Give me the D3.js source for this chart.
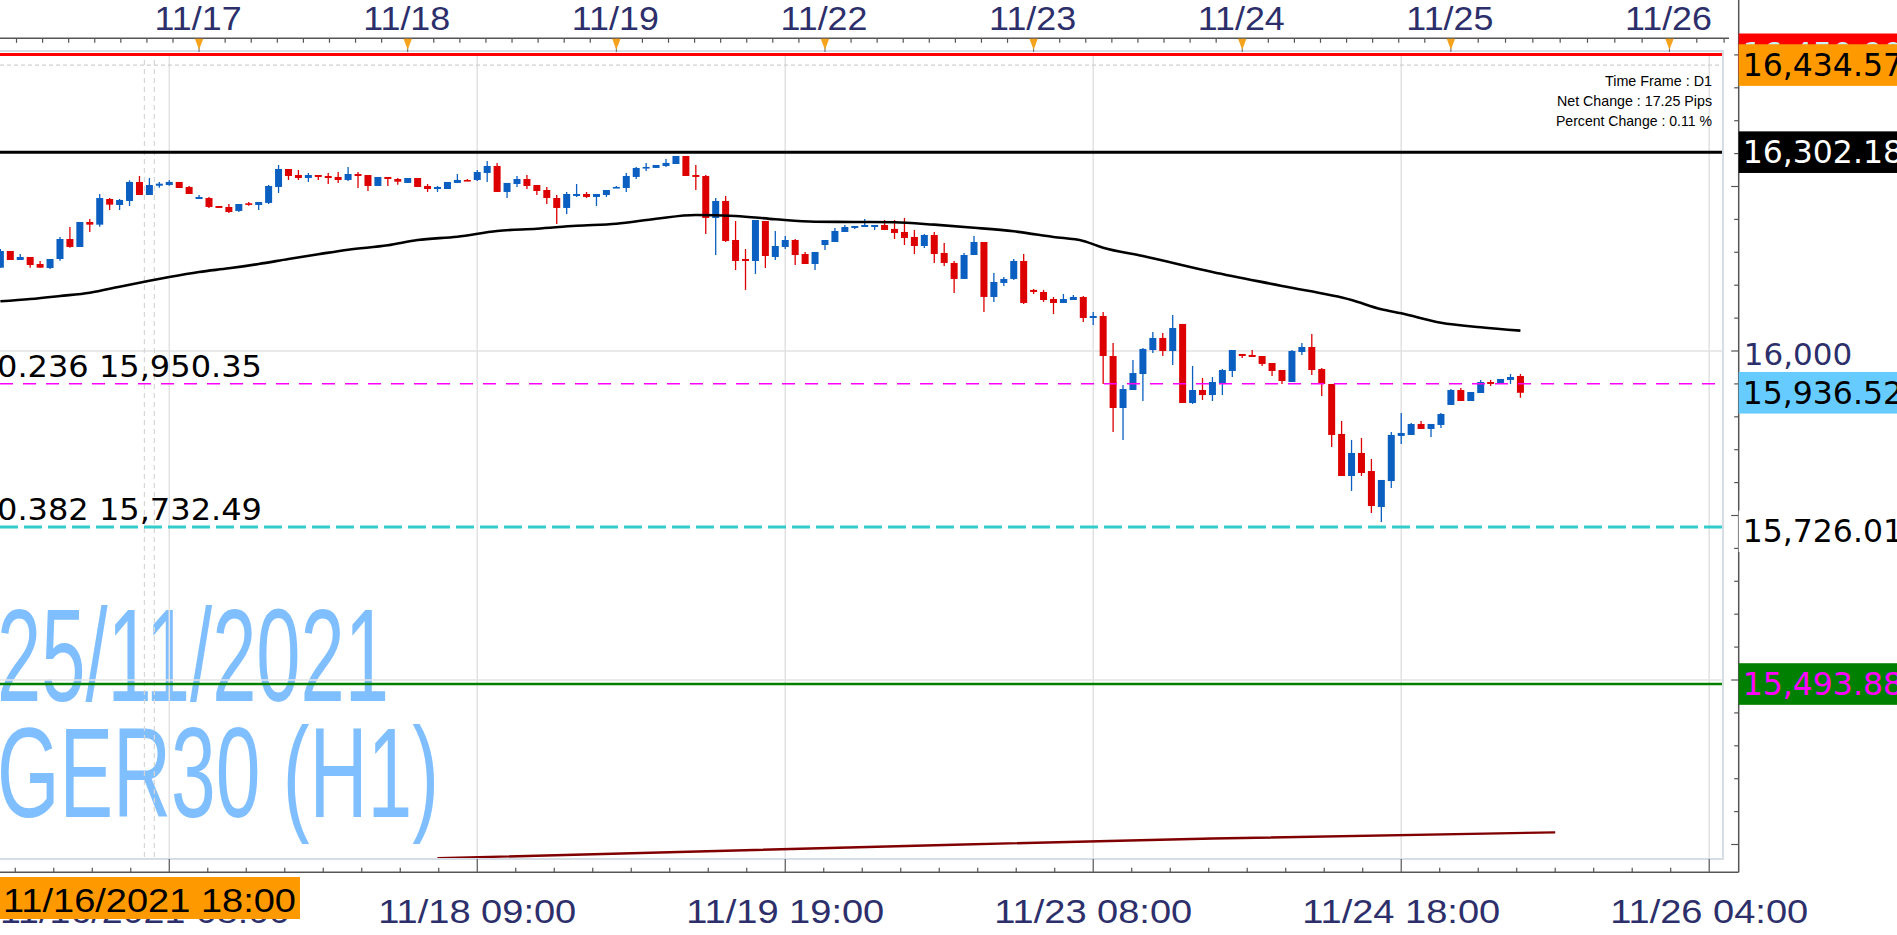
<!DOCTYPE html>
<html><head><meta charset="utf-8">
<script src="https://cdn.jsdelivr.net/npm/d3@7"></script>
<style>html,body{margin:0;padding:0;background:#fff;overflow:hidden}</style>
</head><body>
<svg id="c" width="1897" height="935"></svg>
<script>
// ---------------- DATA ----------------
const opens=[16126.6,16152.0,16138.3,16142.9,16132.2,16126.1,16139.8,16170.2,16158.1,16196.1,
16192.0,16231.0,16221.9,16228.0,16256.9,16237.1,16251.2,16252.3,16256.9,16249.3,
16231.0,16232.5,16220.4,16218.9,16212.8,16224.5,16221.9,16225.0,16249.3,16276.6,
16267.5,16262.9,16267.5,16266.0,16264.5,16259.9,16269.0,16267.5,16250.8,16264.5,
16261.4,16255.4,16262.9,16250.8,16246.2,16246.2,16255.4,16259.9,16259.9,16270.6,
16281.2,16241.7,16253.8,16261.4,16252.3,16244.7,16232.5,16217.4,16235.6,16238.6,
16234.1,16237.1,16247.7,16247.7,16264.5,16278.2,16278.2,16281.2,16284.2,16296.4,
16267.5,16266.0,16202.2,16228.0,16168.7,16139.8,16136.8,16197.6,16142.9,16158.1,
16168.7,16147.4,16132.2,16161.1,16165.7,16180.9,16187.0,16188.5,16188.5,16191.5,
16185.5,16180.9,16173.3,16159.6,16176.3,16149.0,16133.8,16109.5,16145.9,16165.7,
16082.1,16103.4,16109.5,16136.8,16092.8,16089.7,16079.0,16073.0,16077.5,16082.1,
16050.2,16053.2,15992.4,15913.4,15940.7,15965.0,16001.5,16019.8,16000.0,16041.1,
15921.0,15940.7,15933.1,15951.4,15969.6,15995.5,15994.0,15992.4,15981.8,15971.1,
15952.9,15998.5,16006.1,15972.6,15949.9,15873.9,15810.0,15845.0,15817.6,15762.9,
15802.4,15870.9,15872.4,15889.1,15881.5,15887.6,15918.0,15940.7,15924.0,15936.2,
15952.9,15949.9,15956.0,15962.0];
const highs=[16155.0,16152.0,16147.4,16142.9,16136.8,16139.8,16173.3,16188.5,16196.1,16200.6,
16238.6,16232.5,16231.0,16259.4,16266.0,16262.9,16256.9,16259.4,16256.9,16250.8,
16237.1,16234.1,16220.4,16223.4,16223.4,16226.5,16226.5,16252.3,16282.7,16276.6,
16275.1,16270.6,16267.5,16270.6,16272.0,16279.7,16272.0,16267.5,16264.5,16264.5,
16262.9,16262.9,16262.9,16253.8,16250.8,16256.9,16269.0,16261.4,16275.1,16288.8,
16285.8,16255.4,16266.0,16267.5,16252.3,16249.3,16237.1,16241.7,16253.8,16241.7,
16238.6,16244.7,16250.8,16270.6,16279.7,16285.8,16282.7,16291.8,16296.4,16296.4,
16282.7,16267.5,16232.5,16235.6,16197.6,16155.0,16199.1,16197.6,16182.4,16174.8,
16170.2,16150.5,16150.5,16168.7,16187.0,16191.5,16190.0,16200.6,16191.5,16199.1,
16199.1,16202.2,16183.9,16177.8,16180.9,16164.2,16136.8,16149.0,16174.8,16165.7,
16118.5,16112.5,16139.8,16147.4,16094.3,16092.8,16082.1,16086.6,16085.1,16083.6,
16059.3,16059.3,16012.2,15948.3,15986.3,16004.6,16028.9,16027.4,16054.7,16041.1,
15977.2,15959.0,15960.5,15972.6,16001.5,15995.5,16001.5,15992.4,15981.8,15971.1,
16001.5,16012.2,16025.9,15974.2,15949.9,15893.7,15864.8,15867.8,15835.9,15804.0,
15876.9,15905.8,15890.6,15893.7,15889.1,15905.8,15942.2,15943.8,15937.7,15956.0,
15956.0,15957.5,15965.0,15965.0];
const lows=[16126.6,16138.3,16138.3,16126.6,16126.6,16124.6,16137.2,16157.0,16158.1,16180.9,
16188.9,16214.3,16214.3,16220.4,16237.1,16237.1,16248.2,16251.2,16247.7,16238.6,
16231.0,16217.4,16217.4,16209.7,16211.3,16220.8,16214.3,16223.4,16240.2,16259.9,
16259.9,16256.9,16259.9,16253.8,16255.4,16258.4,16247.7,16243.2,16250.8,16250.8,
16252.8,16255.4,16249.3,16241.7,16241.7,16246.2,16255.4,16258.4,16258.4,16256.9,
16241.7,16232.5,16249.3,16246.2,16237.1,16223.4,16193.1,16208.3,16234.1,16232.5,
16220.4,16234.1,16247.7,16241.7,16261.4,16273.6,16278.2,16279.7,16284.2,16266.0,
16244.7,16177.8,16145.9,16165.7,16123.1,16092.8,16117.1,16126.1,16138.3,16155.0,
16130.7,16132.2,16123.1,16153.5,16165.7,16180.9,16185.5,16188.5,16183.9,16183.9,
16170.2,16161.1,16147.4,16156.6,16133.8,16129.2,16088.2,16109.5,16145.9,16059.3,
16074.5,16098.8,16107.9,16071.5,16086.6,16074.5,16056.2,16073.0,16077.5,16044.1,
16039.5,15949.9,15876.9,15864.8,15940.7,15924.0,15997.0,15992.4,15978.7,15921.0,
15919.5,15925.5,15924.0,15933.1,15960.5,15989.4,15990.9,15977.2,15962.0,15949.9,
15952.9,15994.0,15963.5,15931.6,15854.1,15810.0,15787.3,15810.0,15753.8,15740.1,
15791.8,15858.7,15872.4,15881.5,15869.4,15883.0,15918.0,15924.0,15924.0,15936.2,
15946.8,15949.9,15949.9,15929.0];
const closes=[16152.0,16138.3,16142.9,16130.7,16126.6,16139.8,16170.2,16158.1,16196.1,16192.0,
16232.5,16222.4,16229.5,16256.9,16237.1,16252.3,16254.3,16256.9,16247.7,16238.6,
16234.1,16218.9,16217.4,16211.3,16223.4,16222.4,16226.5,16250.8,16276.6,16266.0,
16262.9,16267.5,16264.5,16262.9,16259.9,16269.0,16266.0,16250.8,16264.5,16261.4,
16257.3,16262.9,16249.3,16246.2,16249.3,16256.9,16259.9,16258.4,16272.0,16281.2,
16241.7,16255.4,16261.4,16250.8,16243.2,16232.5,16217.4,16238.6,16238.6,16234.1,
16238.6,16244.7,16249.3,16266.0,16278.2,16279.7,16282.7,16285.8,16296.4,16266.0,
16264.5,16202.2,16228.0,16167.2,16136.8,16136.8,16199.1,16144.4,16159.6,16168.7,
16145.9,16132.2,16150.5,16168.7,16182.4,16188.5,16190.0,16191.5,16191.5,16183.9,
16179.4,16171.8,16159.6,16176.3,16147.4,16133.8,16109.5,16145.9,16165.7,16082.1,
16104.9,16109.5,16136.8,16073.0,16089.7,16077.5,16073.0,16079.0,16082.1,16050.2,
16053.2,15992.4,15913.4,15942.2,15966.5,16003.1,16019.8,16000.0,16035.0,15921.0,
15940.7,15933.1,15952.9,15971.1,16001.5,15992.4,15990.9,15980.3,15969.6,15954.4,
16000.0,16006.1,15971.1,15949.9,15872.4,15810.0,15845.0,15814.6,15764.4,15804.0,
15872.4,15875.4,15889.1,15881.5,15889.1,15904.3,15940.7,15924.0,15937.7,15952.9,
15949.9,15957.5,15960.5,15936.52];

// moving average (black), read at sampled bars
const maIdx=[0,3,6,9,12,15,17,20,23,26,29,32,35,39,42,46,50,54,58,62,66,70,74,78,82,86,90,94,98,102,106,109,111,115,122,129,136,139,141,145,149,153];
const maVal=[16075.5,16079.0,16083.6,16088.6,16097.7,16106.8,16112.5,16120.1,16125.7,16132.2,16139.8,16147.0,16154.0,16160.6,16168.7,16173.7,16182.4,16185.9,16190.4,16193.5,16201.1,16206.7,16205.2,16200.2,16196.5,16196.1,16195.6,16192.0,16187.4,16181.9,16173.3,16167.2,16157.0,16144.4,16120.1,16098.8,16077.5,16063.4,16057.3,16043.0,16036.0,16030.9];
// slow line (maroon)
const slowIdx=[44,96,122,156.5];
const slowVal=[15229.0,15249.7,15259.1,15268.5];

const dayIdx=[20,41,62,83,104,125,146,168];
const dayLabels=["11/17","11/18","11/19","11/22","11/23","11/24","11/25","11/26"];
const timeIdx=[17,48,79,110,141,172];
const timeLabels=["","11/18 09:00","11/19 19:00","11/23 08:00","11/24 18:00","11/26 04:00"];
const firstTimeLabel="11/16/2021 08:00";
const cursorIdx=15;
const cursorLabel="11/16/2021 18:00";

const levelValues=[16450.90,16434.57,16302.18,15936.52,15726.01,15493.88];
const fibRatios=["0.236","0.382"];
const fibValues=[15950.35,15732.49];
const gridValues=[16000,15500];
const axisLabelValues=[16000];
const infoLines=["Time Frame : D1","Net Change : 17.25 Pips","Percent Change : 0.11 %"];
const watermarkLines=["25/11/2021","GER30 (H1)"];

// ---------------- STYLE / LAYOUT ----------------
const P={left:0,right:1723,top:53,bottom:859,axisX:1738.7,topAxisY:38.3,botAxisY:872.3};
const narrow="'Liberation Sans Narrow','Arial Narrow','Liberation Sans',Arial,sans-serif";
const verd="'DejaVu Sans',Verdana,sans-serif";
const navy="#2d2f6b";
const upC="#0b5fc1", dnC="#dd0000";
const levelStyle=[
 {box:"#ff0000",text:"#c8f4ff"},
 {box:"#ff9900",text:"#000"},
 {box:"#000000",text:"#fff"},
 {box:"#66ccff",text:"#000"},
 {box:"#ffffff",text:"#000"},
 {box:"#008000",text:"#ff00ff"}];

const svg=d3.select("#c");
const x=d3.scaleLinear().domain([0,172]).range([0.37,1709.2]);
const y=d3.scaleLinear().domain([15500,16000]).range([680,351]);
const fmt=d3.format(",.2f");

svg.append("rect").attr("width",1897).attr("height",935).attr("fill","#fff");
svg.append("clipPath").attr("id","pc").append("rect")
 .attr("x",P.left).attr("y",P.top).attr("width",P.right-P.left).attr("height",P.bottom-P.top);
const g=svg.append("g").attr("clip-path","url(#pc)");

// watermark
const wmY=[701,817], wmW=[392,442], wmS=[132,128];
watermarkLines.forEach((t,i)=>{
 g.append("text").text(t).attr("x",-3).attr("y",wmY[i])
  .attr("font-family",narrow).attr("font-size",wmS[i]).attr("fill","#80bfff")
  .attr("textLength",wmW[i]).attr("lengthAdjust","spacingAndGlyphs");
});

// grid
g.selectAll(".vg").data(timeIdx).join("line")
 .attr("x1",d=>x(d)).attr("x2",d=>x(d)).attr("y1",P.top).attr("y2",P.bottom)
 .attr("stroke","#e2e2e2").attr("stroke-width",1.5);
g.selectAll(".hg").data(gridValues).join("line")
 .attr("x1",P.left).attr("x2",P.right).attr("y1",d=>y(d)).attr("y2",d=>y(d))
 .attr("stroke","#e2e2e2").attr("stroke-width",1.5);
// cursor dashed lines
[cursorIdx-0.5,cursorIdx+0.5].forEach(k=>{
 g.append("line").attr("x1",x(k)).attr("x2",x(k)).attr("y1",P.top-2).attr("y2",P.bottom)
  .attr("stroke","#d6d6d6").attr("stroke-width",1.2).attr("stroke-dasharray","5,4");
});
// dashed gray at orange level
g.append("line").attr("x1",P.left).attr("x2",P.right).attr("y1",y(levelValues[1])).attr("y2",y(levelValues[1]))
 .attr("stroke","#cfcfcf").attr("stroke-width",1.2).attr("stroke-dasharray","4,3");

// slow maroon line
const slowPts=slowIdx.map((k,i)=>[x(k),y(slowVal[i])]);
g.append("path").attr("d",d3.line()(slowPts)).attr("fill","none").attr("stroke","#800000").attr("stroke-width",2.4);

// candles
const idx=d3.range(opens.length);
const cg=g.append("g");
cg.selectAll(".w").data(idx).join("line")
 .attr("x1",i=>x(i)).attr("x2",i=>x(i)).attr("y1",i=>y(highs[i])).attr("y2",i=>y(lows[i]))
 .attr("stroke",i=>closes[i]>=opens[i]?upC:dnC).attr("stroke-width",1.3);
cg.selectAll(".b").data(idx).join("rect")
 .attr("x",i=>x(i)-3.5).attr("width",7)
 .attr("y",i=>y(Math.max(opens[i],closes[i])))
 .attr("height",i=>Math.max(1.6,Math.abs(y(opens[i])-y(closes[i]))))
 .attr("fill",i=>closes[i]>=opens[i]?upC:dnC);

// level lines
const lv=(v,col,w,dash)=>{
 const l=g.append("line").attr("x1",P.left).attr("x2",P.right).attr("y1",y(v)).attr("y2",y(v))
  .attr("stroke",col).attr("stroke-width",w);
 if(dash) l.attr("stroke-dasharray",dash);
};
lv(levelValues[0],"#ff0000",3.4);
lv(levelValues[2],"#000000",3);
lv(fibValues[0],"#ff00ff",1.5,"13,10");
lv(fibValues[1],"#33cccc",3,"18,6");
lv(levelValues[5],"#008000",2.6);

// MA line
const maPts=maIdx.map((k,i)=>[x(k),y(maVal[i])]);
g.append("path").attr("d",d3.line().curve(d3.curveMonotoneX)(maPts)).attr("fill","none")
 .attr("stroke","#000").attr("stroke-width",2.6);

// frame
svg.append("rect").attr("x",P.left-2).attr("y",P.top-2).attr("width",P.right-P.left+2).attr("height",P.bottom-P.top+2)
 .attr("fill","none").attr("stroke","#d7dde4").attr("stroke-width",2);

// fib labels
const fibY=[377,520];
fibValues.forEach((v,i)=>{
 svg.append("text").text(fibRatios[i]+" "+fmt(v)).attr("x",-3).attr("y",fibY[i])
  .attr("font-family",verd).attr("font-size",30).attr("fill","#000")
  .attr("textLength",265).attr("lengthAdjust","spacingAndGlyphs");
});

// info text
const infoY=[86,106,126], infoW=[107,155,156];
infoLines.forEach((t,i)=>{
 svg.append("text").text(t).attr("x",1712).attr("y",infoY[i]).attr("text-anchor","end")
  .attr("font-family",narrow).attr("font-size",15).attr("fill","#000")
  .attr("textLength",infoW[i]).attr("lengthAdjust","spacingAndGlyphs");
});

// ---------- top axis ----------
svg.append("line").attr("x1",0).attr("x2",1729).attr("y1",P.topAxisY).attr("y2",P.topAxisY)
 .attr("stroke","#555").attr("stroke-width",1.5);
let topMinor=[];
for(let m=1;m<8;m++){const k=dayIdx[0]-m*(dayIdx[1]-dayIdx[0])/8; if(x(k)>=0) topMinor.push(k);}
for(let d=0;d<dayIdx.length-1;d++){const s=(dayIdx[d+1]-dayIdx[d])/8; for(let m=0;m<8;m++) topMinor.push(dayIdx[d]+m*s);}
{const s=(dayIdx[7]-dayIdx[6])/8; for(let m=0;m<4;m++){const k=dayIdx[7]+m*s; if(x(k)<=1729) topMinor.push(k);}}
svg.selectAll(".tt").data(topMinor).join("line")
 .attr("x1",d=>x(d)).attr("x2",d=>x(d)).attr("y1",P.topAxisY).attr("y2",P.topAxisY+4.5)
 .attr("stroke","#555").attr("stroke-width",1.2);
svg.selectAll(".tl").data(dayIdx).join("line")
 .attr("x1",d=>x(d)).attr("x2",d=>x(d)).attr("y1",P.topAxisY).attr("y2",P.top-1)
 .attr("stroke","#666").attr("stroke-width",1);
svg.selectAll(".tri").data(dayIdx).join("path")
 .attr("d",d=>`M${x(d)-4.2},${P.topAxisY+0.5}L${x(d)+4.2},${P.topAxisY+0.5}L${x(d)},${P.topAxisY+11.5}Z`)
 .attr("fill","#f5a21c");
svg.selectAll(".tx").data(dayIdx).join("text")
 .attr("x",d=>x(d)-1).attr("y",30).attr("text-anchor","middle").text((d,i)=>dayLabels[i])
 .attr("font-family",narrow).attr("font-size",34).attr("fill",navy)
 .attr("textLength",87).attr("lengthAdjust","spacingAndGlyphs");

// ---------- bottom axis ----------
svg.append("line").attr("x1",0).attr("x2",P.axisX).attr("y1",P.botAxisY).attr("y2",P.botAxisY)
 .attr("stroke","#555").attr("stroke-width",1.5);
let botMinor=[];
const bs=(timeIdx[1]-timeIdx[0])/8;
for(let m=1;m<8;m++){const k=timeIdx[0]-m*bs; if(x(k)>=0) botMinor.push(k);}
for(let t=0;t<timeIdx.length-1;t++) for(let m=1;m<8;m++) botMinor.push(timeIdx[t]+m*bs);
svg.selectAll(".bm").data(botMinor).join("line")
 .attr("x1",d=>x(d)).attr("x2",d=>x(d)).attr("y1",P.botAxisY-4.5).attr("y2",P.botAxisY)
 .attr("stroke","#555").attr("stroke-width",1.2);
svg.selectAll(".bM").data(timeIdx).join("line")
 .attr("x1",d=>x(d)).attr("x2",d=>x(d)).attr("y1",P.bottom).attr("y2",P.botAxisY)
 .attr("stroke","#555").attr("stroke-width",1.2);
svg.append("text").text(firstTimeLabel).attr("x",0).attr("y",923)
 .attr("font-family",narrow).attr("font-size",33).attr("fill",navy)
 .attr("textLength",290).attr("lengthAdjust","spacingAndGlyphs");
svg.selectAll(".bx").data(timeIdx.slice(1)).join("text")
 .attr("x",d=>x(d)).attr("y",923).attr("text-anchor","middle").text((d,i)=>timeLabels[i+1])
 .attr("font-family",narrow).attr("font-size",33).attr("fill",navy)
 .attr("textLength",198).attr("lengthAdjust","spacingAndGlyphs");
// cursor time box
svg.append("rect").attr("x",0).attr("y",877).attr("width",300).attr("height",42).attr("fill","#ff9900");
svg.append("text").text(cursorLabel).attr("x",3).attr("y",912)
 .attr("font-family",narrow).attr("font-size",33).attr("fill","#000")
 .attr("textLength",293).attr("lengthAdjust","spacingAndGlyphs");

// ---------- right axis ----------
svg.append("line").attr("x1",P.axisX).attr("x2",P.axisX).attr("y1",0).attr("y2",P.botAxisY)
 .attr("stroke","#555").attr("stroke-width",1.5);
const pTicks=d3.range(15250,16451,50);
svg.selectAll(".pt").data(pTicks).join("line")
 .attr("x1",d=>d%250===0?P.axisX-7.5:P.axisX-4.5).attr("x2",P.axisX)
 .attr("y1",d=>y(d)).attr("y2",d=>y(d)).attr("stroke","#555").attr("stroke-width",1.2);
svg.selectAll(".pl").data(axisLabelValues).join("text")
 .attr("x",P.axisX+5).attr("y",d=>y(d)+14).text(d=>d3.format(",")(d))
 .attr("font-family",verd).attr("font-size",31).attr("fill",navy);
// level boxes
levelValues.forEach((v,i)=>{
 const yy=y(v);
 svg.append("rect").attr("x",P.axisX).attr("y",yy-20.8).attr("width",1897-P.axisX).attr("height",41.6)
  .attr("fill",levelStyle[i].box);
 svg.append("text").text(fmt(v)).attr("x",P.axisX+4).attr("y",yy+11)
  .attr("font-family",verd).attr("font-size",31.5).attr("fill",levelStyle[i].text);
});
</script>
</body></html>
